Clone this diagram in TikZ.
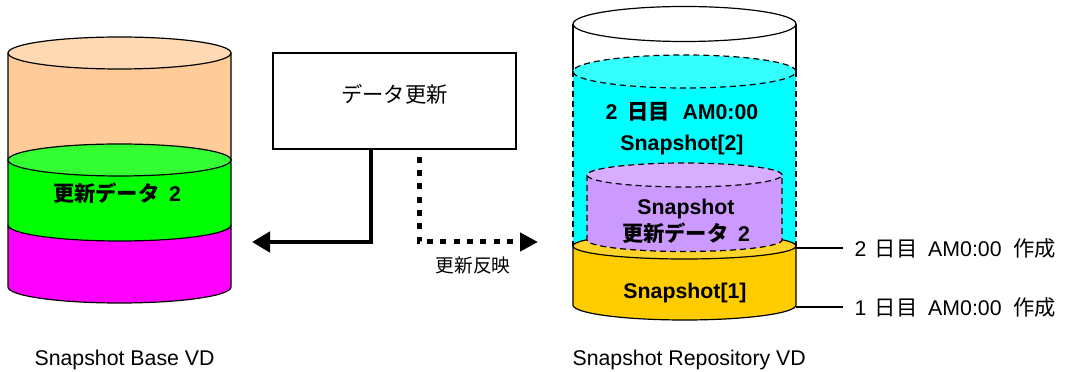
\documentclass[tikz,border=0pt]{standalone}
\usepackage{fontspec}
\setmainfont{Liberation Sans}
\newfontfamily\jp{Noto Sans CJK JP}
\usetikzlibrary{arrows.meta}
\definecolor{peach}{HTML}{FFCC99}
\definecolor{peachtop}{HTML}{FFD9B3}
\definecolor{grn}{HTML}{00FF00}
\definecolor{grntop}{HTML}{33FF33}
\definecolor{mag}{HTML}{FF00FF}
\definecolor{cyn}{HTML}{00FFFF}
\definecolor{cyntop}{HTML}{33FFFF}
\definecolor{ylw}{HTML}{FFCC00}
\definecolor{ylwtop}{HTML}{FFD42A}
\definecolor{prp}{HTML}{CC99FF}
\definecolor{prptop}{HTML}{D7AEFF}
\tikzset{
  big/.style={font=\fontsize{21.3}{24}\selectfont},
  bigb/.style={font=\bfseries\fontsize{21.3}{24}\selectfont},
  small/.style={font=\fontsize{18.7}{21}\selectfont},
  dsh/.style={dash pattern=on 6pt off 4pt},
  solidarrow/.style={line width=4.5pt,-{Triangle[length=18pt,width=20pt]}},
  dotarrow/.style={line width=5pt,dash pattern=on 6pt off 7.3pt,dash phase=6pt,-{Triangle[length=18pt,width=18pt]}},
  sidelabel/.style={big,anchor=west,inner xsep=11pt,inner ysep=0pt},
}
\begin{document}
\begin{tikzpicture}[x=1pt,y=1pt,line width=1.2pt]
\useasboundingbox (0,0) rectangle (1074,372);
% ---------------- left cylinder ----------------
\fill[mag] (8,147) -- (8,85) arc[start angle=180,end angle=360,x radius=111.5,y radius=16] -- (231,147) arc[start angle=0,end angle=-180,x radius=111.5,y radius=16] -- cycle;
\fill[grn] (8,212) -- (8,147) arc[start angle=180,end angle=360,x radius=111.5,y radius=16] -- (231,212) -- cycle;
\fill[peach] (8,319) -- (8,212) arc[start angle=180,end angle=360,x radius=111.5,y radius=16] -- (231,319) -- cycle;
\filldraw[fill=peachtop] (119.5,319) ellipse[x radius=111.5,y radius=16];
\filldraw[fill=grntop] (119.5,212) ellipse[x radius=111.5,y radius=16];
\draw (8,147) arc[start angle=180,end angle=360,x radius=111.5,y radius=16];
\draw (8,319) -- (8,85) arc[start angle=180,end angle=360,x radius=111.5,y radius=16] -- (231,319);
\node[bigb] (upd2) at (117,179) {{\jp 更新データ}\hspace{0.45em}2};
\coordinate (lt) at (252,130);
% ---------------- right cylinder ----------------
\filldraw[fill=white] (684.5,348) ellipse[x radius=111.5,y radius=17.5];
\draw (573,348) -- (573,300.5) (796,348) -- (796,300.5);
\fill[cyn] (573,300.5) -- (573,126) arc[start angle=180,end angle=360,x radius=111.5,y radius=13] -- (796,300.5) -- cycle;
\filldraw[fill=cyntop,dsh] (684.5,300.5) ellipse[x radius=111.5,y radius=16.5];
\draw[dsh] (573,300.5) -- (573,126) (796,300.5) -- (796,126);
\fill[ylw] (573,126) -- (573,67) arc[start angle=180,end angle=360,x radius=111.5,y radius=15] -- (796,126) -- cycle;
\draw (573,126) -- (573,67) arc[start angle=180,end angle=360,x radius=111.5,y radius=15] -- (796,126);
\filldraw[fill=ylwtop] (684.5,126) ellipse[x radius=111.5,y radius=13];
\fill[prp] (587,197) -- (587,132) arc[start angle=180,end angle=360,x radius=97.5,y radius=11.5] -- (782,197) -- cycle;
\draw[dsh] (587,197) -- (587,132) arc[start angle=180,end angle=360,x radius=97.5,y radius=11.5] -- (782,197);
\filldraw[fill=prptop,dsh] (684.5,197) ellipse[x radius=97.5,y radius=12];
\node[bigb] (d2) at (682,260) {2\hspace{0.45em}{\jp 日目}\hspace{0.6em}AM0:00};
\node[bigb] (s2) at (682,227) {Snapshot[2]};
\node[bigb] (sn) at (686,163) {Snapshot};
\node[bigb] (su) at (686,139) {{\jp 更新データ}\hspace{0.45em}2};
\node[bigb] (s1) at (685,79) {Snapshot[1]};
\coordinate (rt) at (538,130);
\coordinate (e2) at (796,124);
\coordinate (e1) at (796,65);
% ---------------- box and arrows ----------------
\node[draw,minimum width=243pt,minimum height=96pt,inner sep=0pt,big,text height=16pt,text depth=12.8pt] (upd) at (394.5,271) {\jp データ更新};
\draw[solidarrow] ([xshift=-23.5pt]upd.south) |- (lt);
\draw[dotarrow] ([xshift=24.5pt]upd.south) |- (rt);
\node[small] (refl) at (473,107) {\jp 更新反映};
% ---------------- side labels ----------------
\node[sidelabel] (l2) at (843,124) {2\hspace{0.4em}{\jp 日目}\hspace{0.5em}AM0:00\hspace{0.55em}{\jp 作成}};
\node[sidelabel] (l1) at (843,65) {1\hspace{0.4em}{\jp 日目}\hspace{0.5em}AM0:00\hspace{0.55em}{\jp 作成}};
\draw (e2) -- (l2.west);
\draw (e1) -- (l1.west);
% ---------------- bottom labels ----------------
\node[big,anchor=base west,inner sep=0pt] (bl) at (34,6) {Snapshot Base VD};
\node[big,anchor=base west,inner sep=0pt] (rl) at (572,6) {Snapshot Repository VD};
\end{tikzpicture}
\end{document}
